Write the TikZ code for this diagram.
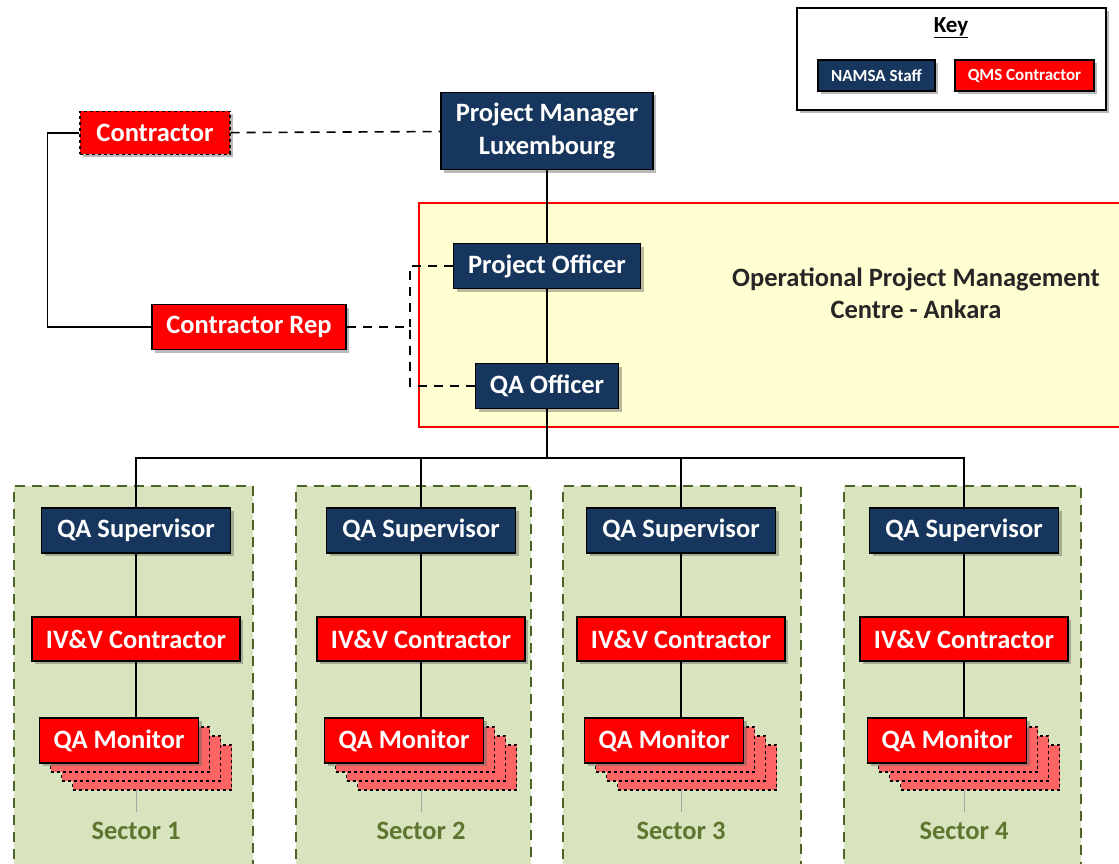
\documentclass[tikz,border=0pt]{standalone}
\usepackage{fontspec}
\setmainfont{Carlito}
\usetikzlibrary{positioning,shadows}

\definecolor{namsablue}{HTML}{17365D}
\definecolor{qmsred}{HTML}{FF0000}
\definecolor{monitorred}{HTML}{FF6464}
\definecolor{centrefill}{HTML}{FFFFD2}
\definecolor{sectorfill}{HTML}{D7E4BD}
\definecolor{sectorline}{HTML}{4F6228}
\definecolor{sectortext}{HTML}{5F7530}

\tikzset{
  boxfont/.style={font=\fontsize{26.5}{33}\selectfont\bfseries},
  softshadow/.style={drop shadow={shadow xshift=3pt,shadow yshift=-3pt,fill=black!60,opacity=0.45}},
  staff/.style={boxfont,draw=black,line width=1.2pt,fill=namsablue,text=white,
    minimum height=45pt,inner sep=0pt,align=center,softshadow},
  contractor/.style={staff,fill=qmsred},
  monitor/.style={draw=black,line width=1.2pt,dashed,fill=monitorred,
    minimum width=159pt,minimum height=45pt},
  link/.style={line width=1.6pt},
  dashlink/.style={line width=1.6pt,dash pattern=on 9pt off 7pt},
  sector/.style={draw=sectorline,line width=1.8pt,dash pattern=on 10pt off 7pt,fill=sectorfill},
}

\begin{document}
\begin{tikzpicture}[x=1pt,y=-1pt]
\useasboundingbox (0,0) rectangle (1119,864);
\clip (0,0) rectangle (1119,864);

% background areas
\fill[centrefill] (419,203) rectangle (1125,427);
\draw[qmsred,line width=2.4pt] (1125,203) -- (419,203) -- (419,427) -- (1125,427);
\node[font=\fontsize{26.5}{32}\selectfont\bfseries,text=black!85,align=center]
  (centre) at (916,293) {Operational Project Management\\Centre - Ankara};

% key
\node[draw,line width=1.8pt,fill=white,softshadow,minimum width=309pt,minimum height=102pt]
  (key) at (951.5,59) {};
\node[font=\fontsize{23}{26}\selectfont\bfseries] (keytitle) at (951,28) {\underline{Key}};
\node[staff,font=\fontsize{17}{20}\selectfont\bfseries,minimum width=117pt,minimum height=31pt]
  (keystaff) at (876.5,75.5) {NAMSA Staff};
\node[contractor,font=\fontsize{17}{20}\selectfont\bfseries,minimum width=139pt,minimum height=31pt]
  (keycontr) at (1024.5,75.5) {QMS Contractor};

% management chain
\node[staff,minimum width=212pt,minimum height=77pt] (pm) at (547,131) {Project Manager\\Luxembourg};
\node[contractor,dashed,minimum width=150pt,minimum height=43pt] (contr) at (155,133) {Contractor};
\node[contractor,minimum width=194pt] (crep) at (249,327) {Contractor Rep};
\node[staff,minimum width=187pt] (po) at (547,266) {Project Officer};
\node[staff,minimum width=143pt] (qao) at (547,386) {QA Officer};

\coordinate (split) at (410,327);
\coordinate (bus) at (547,458);

\draw[link] (pm) -- (po) -- (qao) -- (bus);
\draw[link] (contr.west) -- ++(-32,0) |- (crep.west);
\draw[dashlink] (contr) -- (pm);
\draw[dashlink] (crep) -- (split);
\draw[dashlink] (po.west) -| (split);
\draw[dashlink] (qao.west) -| (split);

% sectors
\foreach \x/\n/\l/\r in {136/1/14/253, 421/2/296/531, 681/3/563/801, 964/4/844/1081}{
  \draw[sector] (\l,876) -- (\l,486) -- (\r,486) -- (\r,876);
  \node[staff,minimum width=189pt] (sup\n) at (\x,530.5) {QA Supervisor};
  \node[contractor,minimum width=208pt,minimum height=44pt] (ivv\n) at (\x,639) {IV\&V Contractor};
  \draw[black!35,line width=1pt] (\x,780) -- (\x,812);
  \foreach \k in {3,2,1}
    \node[monitor] (mon\n-\k) at (\x-17+11*\k,740.5+9*\k) {};
  \node[contractor,minimum width=159pt] (mon\n) at (\x-17,740.5) {QA Monitor};
  \node[boxfont,text=sectortext] (label\n) at (\x,831) {Sector \n};
  \draw[link] (sup\n.north) |- (bus);
  \draw[link] (sup\n) -- (ivv\n);
  \draw[link] (ivv\n) -- (ivv\n.south |- mon\n.north);
}
\end{tikzpicture}
\end{document}
